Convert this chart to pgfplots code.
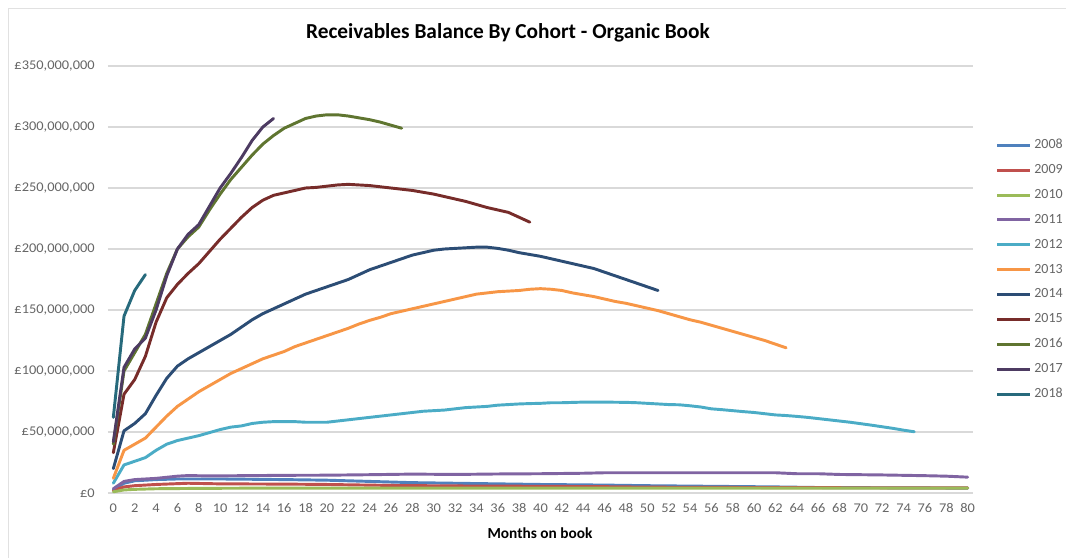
\documentclass[border=0pt]{standalone}
\usepackage{fontspec}
\setmainfont{Carlito}
\newfontfamily\wfont{Carlito}[FakeStretch=1.08]
\usepackage{pgfplots}
\pgfplotsset{compat=1.18}
\definecolor{c08}{HTML}{4F81BD}
\definecolor{c09}{HTML}{C0504D}
\definecolor{c10}{HTML}{9BBB59}
\definecolor{c11}{HTML}{8064A2}
\definecolor{c12}{HTML}{4BACC6}
\definecolor{c13}{HTML}{F79646}
\definecolor{c14}{HTML}{2C4D75}
\definecolor{c15}{HTML}{772C2A}
\definecolor{c16}{HTML}{5F7530}
\definecolor{c17}{HTML}{4D3B62}
\definecolor{c18}{HTML}{276A7C}
\definecolor{txt}{HTML}{666666}
\definecolor{grd}{HTML}{D9D9D9}
\begin{document}
\begin{tikzpicture}
\path[use as bounding box] (0,0) rectangle (799.5pt,418.5pt);
\draw[grd!80,line width=0.6pt] (6pt,0) -- (6pt,412.5pt) -- (799.5pt,412.5pt);
\begin{axis}[
  at={(81pt,48.75pt)}, anchor=south west,
  scale only axis, width=648.75pt, height=320.25pt,
  xmin=-0.5, xmax=80.5, ymin=0, ymax=350,
  xtick={0,2,...,80},
  ytick={0,50,...,350},
  yticklabels={{£0},{£50,000,000},{£100,000,000},{£150,000,000},{£200,000,000},{£250,000,000},{£300,000,000},{£350,000,000}},
  major tick length=0pt,
  axis line style={draw=none},
  ymajorgrids, grid style={grd, line width=0.8pt},
  tick label style={font=\wfont\fontsize{10pt}{12pt}\selectfont, text=txt},
  /pgf/number format/assume math mode=true,
  yticklabel style={xshift=-6.5pt},
  xticklabel style={yshift=-4.5pt},
  every axis plot/.append style={line width=2.2pt, line join=round, line cap=round, mark=none},
  legend style={at={(1.026,0.835)}, anchor=north west, draw=none, fill=none,
    font=\fontsize{10.5pt}{12pt}\selectfont, text=txt, row sep=6.3pt, inner sep=0pt},
  legend cell align=left,
  legend image post style={line width=2.2pt, line cap=butt, xscale=1.45},
]
% 2008
\addplot[c08] coordinates {(0,3)(1,8)(2,10)(3,10.5)(4,11)(6,11.5)(10,11.5)(16,11)(20,10.5)(24,9.5)(28,8.5)(32,8)(36,7.5)(40,7)(46,6.5)(50,6)(56,5.5)(62,5)(66,4.5)(72,4.3)(80,4)};
\addlegendentry{2008}
% 2009
\addplot[c09] coordinates {(0,2)(1,5)(2,6)(4,7)(7,8)(10,7.5)(16,7.3)(20,7)(26,6.2)(32,5.8)(40,5.5)(46,5.2)(50,4.8)(60,4.5)(70,4.3)(80,4.2)};
\addlegendentry{2009}
% 2010
\addplot[c10] coordinates {(0,1)(1,2.5)(2,3)(4,3.5)(8,3.8)(14,4)(20,4)(30,4)(40,4)(50,4)(60,4)(70,4)(80,4)};
\addlegendentry{2010}
% 2011
\addplot[c11] coordinates {(0,3.5)(1,9.5)(2,11)(4,12)(6,13.8)(7,14.3)(9,14)(12,14.2)(16,14.5)(20,14.6)(24,15)(28,15.5)(32,15.2)(36,15.6)(40,15.8)(44,16.2)(46,16.6)(52,16.6)(58,16.6)(62,16.6)(64,15.8)(66,15.8)(68,15.2)(70,15)(72,14.8)(74,14.5)(76,14.2)(78,13.8)(80,13)};
\addlegendentry{2011}
% 2012
\addplot[c12] coordinates {(0,8)(1,23)(2,26)(3,29)(4,35)(5,40)(6,43)(7,45)(8,47)(9,49.5)(10,52)(11,54)(12,55)(13,57)(14,58)(15,58.5)(16,58.5)(17,58.5)(18,58)(19,58)(20,58)(21,59)(22,60)(23,61)(24,62)(25,63)(26,64)(27,65)(28,66)(29,67)(30,67.5)(31,68)(32,69)(33,70)(34,70.5)(35,71)(36,72)(37,72.5)(38,73)(39,73.3)(40,73.5)(41,74)(42,74)(44,74.5)(46,74.5)(48,74.3)(49,74)(50,73.5)(51,73)(52,72.5)(53,72.3)(54,71.5)(55,70.5)(56,69)(57,68.3)(58,67.5)(59,66.7)(60,66)(61,65)(62,64)(63,63.5)(64,62.8)(65,62)(66,61)(67,60)(68,59)(69,58)(70,56.8)(71,55.6)(72,54.3)(73,53)(74,51.5)(75,50.2)};
\addlegendentry{2012}
% 2013
\addplot[c13] coordinates {(0,12)(1,35)(2,40)(3,45)(4,54)(5,63)(6,71)(7,77)(8,83)(9,88)(10,93)(11,98)(12,102)(13,106)(14,110)(15,113)(16,116)(17,120)(18,123)(19,126)(20,129)(21,132)(22,135)(23,138.5)(24,141.5)(25,144)(26,147)(27,149)(28,151)(29,153)(30,155)(31,157)(32,159)(33,161)(34,163)(35,164)(36,165)(37,165.5)(38,166)(39,167)(40,167.5)(41,167)(42,166)(43,164)(44,162.5)(45,161)(46,159)(47,157)(48,155.5)(49,153.5)(50,151.5)(51,149.5)(52,147)(53,144.5)(54,142)(55,140)(56,137.5)(57,135)(58,132.5)(59,130)(60,127.5)(61,125)(62,122)(63,119)};
\addlegendentry{2013}
% 2014
\addplot[c14] coordinates {(0,20)(1,51)(2,57)(3,65)(4,80)(5,94)(6,104)(7,110)(8,115)(9,120)(10,125)(11,130)(12,136)(13,142)(14,147)(15,151)(16,155)(17,159)(18,163)(19,166)(20,169)(21,172)(22,175)(23,179)(24,183)(25,186)(26,189)(27,192)(28,195)(29,197)(30,199)(31,200)(32,200.5)(33,201)(34,201.5)(35,201.5)(36,200.5)(37,199)(38,197)(39,195.5)(40,194)(41,192)(42,190)(43,188)(44,186)(45,184)(46,181)(47,178)(48,175)(49,172)(50,169)(51,166)};
\addlegendentry{2014}
% 2015
\addplot[c15] coordinates {(0,33)(1,81)(2,93)(3,112)(4,140)(5,160)(6,171)(7,180)(8,188)(9,198)(10,208)(11,217)(12,226)(13,234)(14,240)(15,244)(16,246)(17,248)(18,250)(19,250.5)(20,251.5)(21,252.5)(22,253)(23,252.5)(24,252)(25,251)(26,250)(27,249)(28,248)(29,246.5)(30,245)(31,243)(32,241)(33,239)(34,236.5)(35,234)(36,232)(37,230)(38,226)(39,222)};
\addlegendentry{2015}
% 2016
\addplot[c16] coordinates {(0,40)(1,100)(2,115)(3,130)(4,155)(5,180)(6,200)(7,210)(8,218)(9,232)(10,245)(11,257)(12,267)(13,277)(14,286)(15,293)(16,299)(17,303)(18,307)(19,309)(20,310)(21,310)(22,309)(23,307.5)(24,306)(25,304)(26,301.5)(27,299)};
\addlegendentry{2016}
% 2017
\addplot[c17] coordinates {(0,42)(1,103)(2,118)(3,127)(4,150)(5,178)(6,200)(7,212)(8,220)(9,235)(10,250)(11,262)(12,275)(13,289)(14,300)(15,307)};
\addlegendentry{2017}
% 2018
\addplot[c18] coordinates {(0,62)(1,145)(2,166)(3,179)};
\addlegendentry{2018}
\end{axis}
\node[font=\fontsize{16pt}{19pt}\selectfont\bfseries, text=black] at (381pt,393.75pt) {Receivables Balance By Cohort - Organic Book};
\node[font=\fontsize{11.5pt}{13pt}\selectfont\bfseries, text=black] at (405pt,18.75pt) {Months on book};
\end{tikzpicture}
\end{document}
